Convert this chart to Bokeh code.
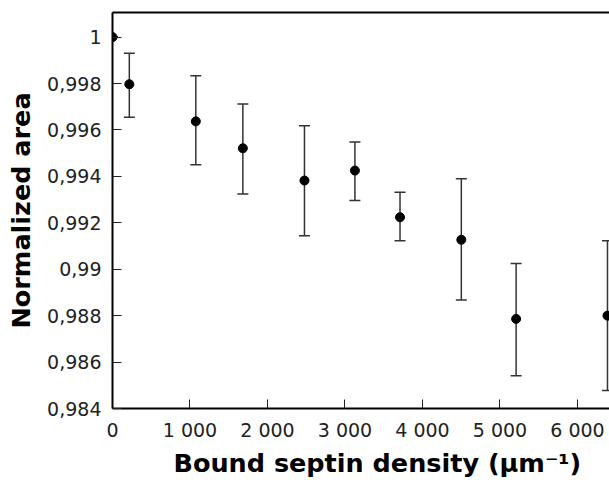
from bokeh.plotting import figure
from bokeh.models import (ColumnDataSource, Whisker, TeeHead, LinearAxis, FixedTicker,
                          CustomJSTickFormatter, Range1d, Title)
from bokeh.embed import file_html
from bokeh.resources import INLINE

# Data
density = [0, 217, 1075, 1682, 2477, 3128, 3710, 4501, 5208, 6387]
area = [1.0, 0.99797, 0.99637, 0.99521, 0.99382, 0.99425, 0.99224, 0.99127, 0.98786, 0.98800]
err_upper = [1.0, 0.99930, 0.99833, 0.99712, 0.99618, 0.99548, 0.99332, 0.99390, 0.99025, 0.99123]
err_lower = [1.0, 0.99655, 0.99450, 0.99324, 0.99144, 0.99296, 0.99123, 0.98867, 0.98541, 0.98478]

x_ticks = [0, 1000, 2000, 3000, 4000, 5000, 6000]
y_ticks = [0.984, 0.986, 0.988, 0.990, 0.992, 0.994, 0.996, 0.998, 1.0]

x_label = "Bound septin density (\u03bcm\u207b\u00b9)"
y_label = "Normalized area"

X_END = 6413
Y_START, Y_END = 0.984, 1.00106

src = ColumnDataSource(dict(x=density, y=area, upper=err_upper, lower=err_lower))

p = figure(width=609, height=489, output_backend="svg", toolbar_location=None,
           x_range=Range1d(0, X_END), y_range=Range1d(Y_START, Y_END),
           min_border_left=112, min_border_right=0, min_border_top=12, min_border_bottom=81)

p.outline_line_color = None
p.xgrid.visible = False
p.ygrid.visible = False
p.background_fill_color = "white"
p.border_fill_color = "white"

p.add_layout(Whisker(source=src, base="x", upper="upper", lower="lower",
                     line_color="#333333", line_width=1.5,
                     upper_head=TeeHead(size=11, line_color="#333333", line_width=1.5),
                     lower_head=TeeHead(size=11, line_color="#333333", line_width=1.5)))
p.scatter("x", "y", source=src, size=9, color="black")

FONT = "DejaVu Sans"

p.xaxis.ticker = FixedTicker(ticks=x_ticks)
p.yaxis.ticker = FixedTicker(ticks=y_ticks)
p.xaxis.formatter = CustomJSTickFormatter(code="""
return Math.round(tick).toString().replace(/\\B(?=(\\d{3})+(?!\\d))/g, ' ');
""")
p.yaxis.formatter = CustomJSTickFormatter(code="""
let s = tick.toFixed(3).replace(/0+$/, '').replace(/\\.$/, '');
return s.replace('.', ',');
""")

for ax in (p.xaxis[0], p.yaxis[0]):
    ax.axis_line_width = 2
    ax.axis_line_color = "black"
    ax.major_tick_in = 9
    ax.major_tick_out = 0
    ax.major_tick_line_width = 1
    ax.major_tick_line_color = "#222222"
    ax.minor_tick_line_color = None
    ax.major_label_text_font = FONT
    ax.major_label_text_font_size = "19px"
    ax.major_label_text_color = "#222222"
    ax.axis_label_text_font = FONT
    ax.axis_label_text_font_style = "bold"
    ax.axis_label_text_font_size = "25.5px"
    ax.axis_label_text_color = "black"

p.yaxis.axis_label = y_label
p.xaxis.major_label_standoff = 10
p.yaxis.major_label_standoff = 11
p.yaxis.axis_label_standoff = 8

# x-axis title as a title below the axis, left-aligned with an offset
# (the reference's frame continues past the window, so its title is off-centre)
p.add_layout(Title(text=x_label, align="left", offset=61, standoff=4,
                   text_font=FONT, text_font_style="bold", text_font_size="25.5px",
                   text_color="black"), "below")

top = LinearAxis(ticker=FixedTicker(ticks=[]), axis_line_width=2, axis_line_color="black",
                 major_label_text_font_size="0px", major_tick_line_color=None,
                 minor_tick_line_color=None, major_label_standoff=0)
p.add_layout(top, "above")

open("out.html", "w").write(file_html(p, INLINE))
